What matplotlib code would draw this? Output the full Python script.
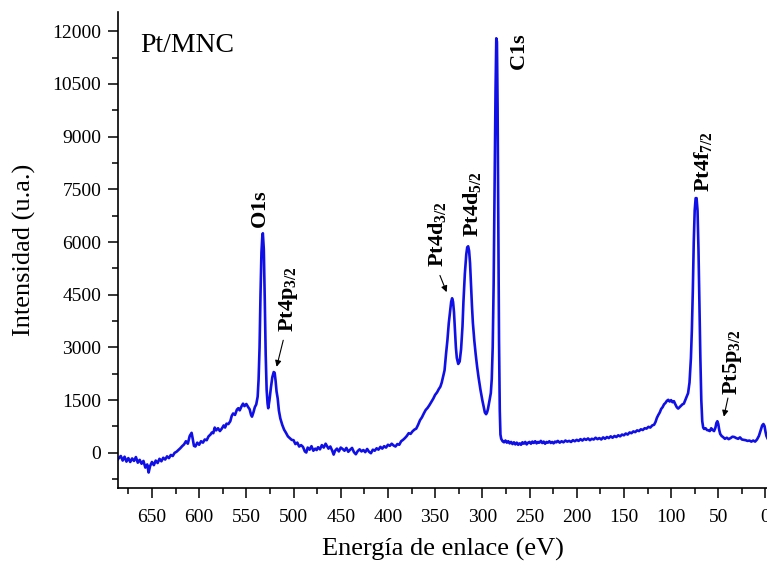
import matplotlib
matplotlib.use("Agg")
import matplotlib.pyplot as plt
from matplotlib.ticker import MultipleLocator

plt.rcParams['font.family'] = ['Liberation Serif', 'DejaVu Serif']
plt.rcParams['mathtext.fontset'] = 'custom'
plt.rcParams['mathtext.rm'] = 'Liberation Serif'
plt.rcParams['mathtext.bf'] = 'Liberation Serif:bold'

# Espectro XPS (energia de enlace en eV, intensidad en u.a.)
energia = [
    686, 683, 681, 679, 677, 675, 673, 671, 669, 667, 665, 663, 661, 659, 657, 655,
    653.5, 652, 650, 648, 646, 644, 642, 640, 638, 636, 634, 632, 630, 628, 626, 624,
    622, 620, 618, 616, 614, 612, 610, 608, 607, 605.5, 604, 602, 600, 598, 596, 594,
    592, 590, 588, 586.5, 585, 583.5, 582, 580, 578, 576, 574, 572.5, 571, 569, 567,
    565.5, 564, 562, 560, 558.5, 557, 555, 553.5, 552, 550, 548, 546.5, 545, 544,
    542.5, 541, 539.5, 538, 537, 536, 535, 534, 533, 532.5, 531.5, 530.5, 529.5,
    528.5, 527.5, 526.8, 525.5, 524, 522.5, 521, 520, 519, 518, 516.8, 515.5, 514,
    512, 510, 508, 506, 504, 502, 500, 498, 496, 494, 492, 490, 488, 486.5, 485, 483,
    481, 479, 477, 475.5, 474, 472, 470, 468, 466, 464.5, 463, 461, 459, 457.5, 456,
    454, 452, 450, 448, 446, 444, 442, 440, 438, 436, 434, 432, 430, 428, 426, 424,
    422, 420, 418, 416, 414, 412, 410, 408, 406, 404, 402, 400, 398, 396, 394, 392,
    390, 388, 386, 384, 382, 380, 378, 376, 374, 372, 370, 368, 366, 364, 362, 360,
    358, 356, 354, 352, 350, 348, 346, 344.5, 343, 341.5, 340, 338.5, 337, 335.5, 334,
    333, 332, 331, 330, 329, 328, 327, 325.5, 324, 322.5, 321, 320, 318.5, 317, 316,
    315, 314, 313, 312, 311, 310, 308.5, 307, 305.5, 304, 302, 300, 298.5, 297.3, 296,
    295, 294, 293, 292, 291, 290, 289, 288, 287, 286, 285.2, 284.5, 283.8, 283, 282.3,
    281.5, 280.8, 280, 278.5, 277, 275.5, 274, 272.5, 271, 269.5, 268, 266.5, 265,
    263.5, 262, 260.5, 259, 257.5, 256, 254.5, 253, 251.5, 250, 248.5, 247, 245.5, 244,
    242.5, 241, 239.5, 238, 236.5, 235, 233.5, 232, 230.5, 229, 227.5, 226, 224.5, 223,
    221.5, 220, 218, 216, 214, 212, 210, 208, 206, 204, 202, 200, 198, 196, 194, 192,
    190, 188, 186, 184, 182, 180, 178, 176, 174, 172, 170, 168, 166, 164, 162, 160,
    158, 156, 154, 152, 150, 148, 146, 144, 142, 140, 138, 136, 134, 132, 130, 128,
    126, 124, 122, 120, 118, 116.5, 115, 113.5, 112, 110.5, 109, 107.5, 106, 104.5,
    103, 101.5, 100, 98.5, 97, 95.5, 94, 92.5, 91, 89.5, 88, 86.5, 85, 83.5, 82, 80.5,
    79, 78, 77, 76, 75, 74, 73, 72, 71, 70, 69, 68, 67, 66, 65, 63.5, 62, 60.5, 59,
    57.5, 56, 54.5, 53, 52, 51, 50, 49, 48, 46.5, 45, 43, 41, 39, 37, 35, 33, 31, 29,
    27, 25, 23, 21, 19, 17, 15, 13, 11, 9, 7, 5, 3.5, 2.2, 1, 0, -1, -2,
]
intensidad = [
    -180, -90, -220, -110, -250, -150, -260, -160, -230, -120, -280, -200, -310, -230, -420, -330,
    -560, -380, -260, -350, -220, -290, -170, -240, -140, -190, -100, -150, -60, -90, 0, 30,
    80, 130, 190, 240, 330, 260, 480, 570, 430, 200, 180, 290, 230, 330, 290, 380,
    360, 470, 520, 580, 560, 720, 640, 700, 620, 690, 780, 720, 830, 820, 900,
    1050, 1120, 1080, 1230, 1270, 1210, 1330, 1400, 1330, 1390, 1300, 1240, 1080, 1030,
    1150, 1300, 1380, 1600, 2100, 3000, 4500, 5700, 6200, 6250, 5800, 4400, 2800,
    1800, 1400, 1270, 1500, 1850, 2150, 2300, 2280, 2050, 1750, 1550, 1200, 980,
    800, 660, 570, 470, 420, 370, 360, 250, 290, 180, 220, 170, 40, 10, 150, 90,
    190, 60, 120, 80, 160, 100, 220, 150, 260, 190, 120, 180, 60, -50, 60,
    120, 40, 150, 110, 60, 140, 30, 90, 140, 20, -40, 50, 100, 40, 80, 20,
    110, 30, -10, 90, 60, 130, 90, 170, 120, 190, 150, 230, 200, 260, 210, 180,
    250, 230, 330, 370, 420, 480, 560, 540, 610, 660, 690, 800, 930, 1010, 1120, 1220,
    1280, 1360, 1450, 1540, 1650, 1720, 1820, 1880, 2000, 2170, 2350, 2800, 3200, 3700, 4050,
    4300, 4400, 4300, 4000, 3500, 3000, 2700, 2530, 2600, 2950, 3600, 4300, 5100, 5650, 5850,
    5880, 5750, 5400, 4800, 4200, 3700, 3200, 2800, 2450, 2150, 1800, 1500, 1300, 1150, 1100,
    1150, 1250, 1400, 1550, 1700, 2100, 3000, 4800, 7500, 10300, 11800, 11700, 9800, 6500, 3200,
    1200, 520, 400, 330, 300, 350, 290, 330, 270, 310, 250, 300, 240,
    290, 230, 270, 230, 300, 260, 310, 240, 290, 310, 260, 320, 280, 330,
    270, 310, 290, 340, 280, 320, 260, 310, 290, 330, 280, 310, 270, 320,
    300, 340, 290, 330, 300, 350, 320, 340, 310, 360, 330, 370, 340, 390, 350, 400,
    370, 410, 360, 400, 380, 430, 390, 420, 380, 440, 400, 450, 420, 470, 430, 480,
    450, 500, 470, 520, 500, 550, 520, 580, 560, 610, 590, 640, 620, 670, 650, 700,
    690, 740, 720, 780, 800, 880, 1000, 1080, 1150, 1250, 1300, 1380, 1420, 1480,
    1510, 1460, 1500, 1440, 1470, 1380, 1300, 1260, 1300, 1340, 1380, 1400, 1500, 1600, 1700, 2000,
    2700, 3500, 4600, 6000, 6900, 7250, 7250, 6900, 5800, 4200, 2700, 1500, 900, 720, 680, 700, 650, 640, 620,
    700, 650, 620, 720, 850, 900, 820, 650, 540, 480, 450, 400, 430, 390, 420, 460, 450, 420, 400,
    440, 380, 370, 360, 340, 350, 320, 350, 320, 380, 480, 650, 780, 820, 760, 600, 480, 420,
]

# Etiquetas de los picos: (texto, energia, intensidad de la base del texto)
etiquetas = [
    (r'$\mathbf{O1s}$', 533.5, 6380),
    (r'$\mathbf{C1s}$', 260.0, 10880),
    (r'$\mathbf{Pt4p}_{\mathbf{3/2}}$', 505.0, 3440),
    (r'$\mathbf{Pt4d}_{\mathbf{3/2}}$', 347.0, 5280),
    (r'$\mathbf{Pt4d}_{\mathbf{5/2}}$', 310.0, 6130),
    (r'$\mathbf{Pt4f}_{\mathbf{7/2}}$', 65.5, 7430),
    (r'$\mathbf{Pt5p}_{\mathbf{3/2}}$', 34.5, 1650),
]
# Flechas: (energia cola, intensidad cola, energia punta, intensidad punta)
flechas = [
    (510.9, 3205, 517.9, 2450),
    (344.9, 5050, 337.8, 4575),
    (39.8, 1560, 44.1, 1030),
]

fig = plt.figure(figsize=(7.67, 5.64), dpi=100)
ax = fig.add_axes([0.1538, 0.1348, 0.8462, 0.8440])

ax.plot(energia, intensidad, color='#1010e6', lw=1.9)

for texto, e, i in etiquetas:
    ax.text(e, i, texto, rotation=90, ha='center', va='bottom', fontsize=16)

for e0, i0, e1, i1 in flechas:
    ax.annotate('', xy=(e1, i1), xytext=(e0, i0),
                arrowprops=dict(arrowstyle='-|>', color='black', lw=0.8,
                                mutation_scale=9, shrinkA=0, shrinkB=0))

ax.text(0.035, 0.955, 'Pt/MNC', transform=ax.transAxes, fontsize=20,
        ha='left', va='top')

ax.set_xlim(686, -1.6)
ax.set_ylim(-1000, 12550)
ax.xaxis.set_major_locator(MultipleLocator(50))
ax.xaxis.set_minor_locator(MultipleLocator(25))
ax.yaxis.set_major_locator(MultipleLocator(1500))
ax.yaxis.set_minor_locator(MultipleLocator(750))
ax.tick_params(which='major', direction='out', length=7, width=1.1, labelsize=14)
ax.tick_params(axis='x', which='major', pad=8)
ax.tick_params(axis='y', which='major', pad=5)
ax.tick_params(which='minor', direction='out', length=4, width=1.1)
ax.spines['top'].set_visible(False)
ax.spines['right'].set_visible(False)
for s in ['left', 'bottom']:
    ax.spines[s].set_linewidth(1.2)

ax.set_xlabel('Energía de enlace (eV)', fontsize=19, labelpad=9)
ax.set_ylabel('Intensidad (u.a.)', fontsize=19, labelpad=12)

fig.savefig('out.png', dpi=100)
